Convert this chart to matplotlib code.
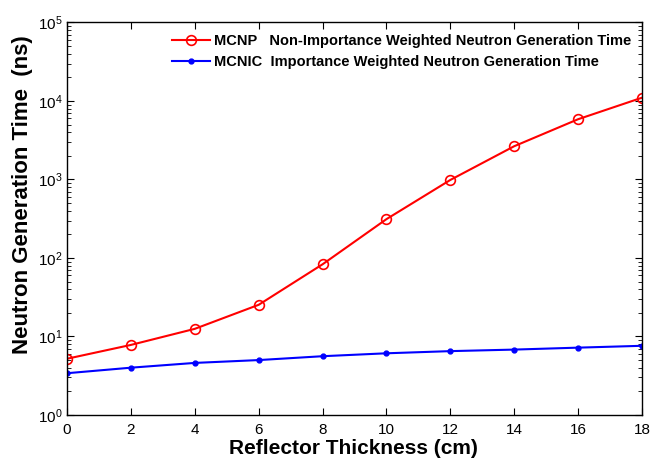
from matplotlib import pyplot as plt
from matplotlib import ticker
import numpy as np

plt.rcParams['font.family'] = ['Liberation Sans', 'DejaVu Sans']
plt.rcParams['mathtext.fontset'] = 'custom'
plt.rcParams['mathtext.rm'] = 'Liberation Sans'
plt.rcParams['mathtext.it'] = 'Liberation Sans:italic'
plt.rcParams['mathtext.bf'] = 'Liberation Sans:bold'

# reflector thickness (cm)
thickness = [0, 2, 4, 6, 8, 10, 12, 14, 16, 18]
# generation time (ns)
mcnp_time = [5.2, 7.8, 12.5, 25.3, 83, 312, 985, 2650, 5850, 11000]
mcnic_time = [3.4, 4.0, 4.6, 5.0, 5.6, 6.1, 6.5, 6.8, 7.2, 7.6]

mcnp_label = "MCNP   Non-Importance Weighted Neutron Generation Time"
mcnic_label = "MCNIC  Importance Weighted Neutron Generation Time"

fig = plt.figure(figsize=(6.51, 4.59), dpi=100)
ax = fig.add_axes([0.103, 0.096, 0.883, 0.855])

ax.plot(thickness, mcnp_time, color='#ff0000', linewidth=1.5,
        marker='o', markersize=7, markerfacecolor='none',
        markeredgecolor='#ff0000', markeredgewidth=1.2, label=mcnp_label)
ax.plot(thickness, mcnic_time, color='#0000ff', linewidth=1.5,
        marker='o', markersize=3.5, markerfacecolor='#0000ff',
        markeredgecolor='#0000ff', label=mcnic_label)

ax.set_yscale('log')
ax.set_xlim(0, 18)
ax.set_ylim(1, 1e5)
ax.set_xticks(range(0, 19, 2))
ax.yaxis.set_major_locator(ticker.LogLocator(base=10, numticks=10))
ax.yaxis.set_minor_locator(ticker.LogLocator(base=10, subs=np.arange(2, 10), numticks=10))
ax.yaxis.set_minor_formatter(ticker.NullFormatter())

ax.tick_params(which='both', direction='in', top=True, right=True, labelsize=11)
ax.tick_params(axis='x', pad=6)
ax.tick_params(which='major', length=5, width=0.8)
ax.tick_params(which='minor', length=3, width=0.6)
for s in ax.spines.values():
    s.set_linewidth(1.0)

ax.set_xlabel("Reflector Thickness (cm)", fontsize=15, fontweight='bold')
ax.xaxis.set_label_coords(0.498, -0.062)
ax.set_ylabel("Neutron Generation Time  (ns)", fontsize=16, fontweight='bold')
ax.yaxis.set_label_coords(-0.060, 0.561)

leg = ax.legend(loc='upper right', bbox_to_anchor=(1.0, 0.997), frameon=False,
                prop={'size': 10.5, 'weight': 'bold'}, handlelength=2.6,
                handletextpad=0.3, labelspacing=0.5, borderaxespad=0.3)

fig.savefig("out.png", dpi=100)
